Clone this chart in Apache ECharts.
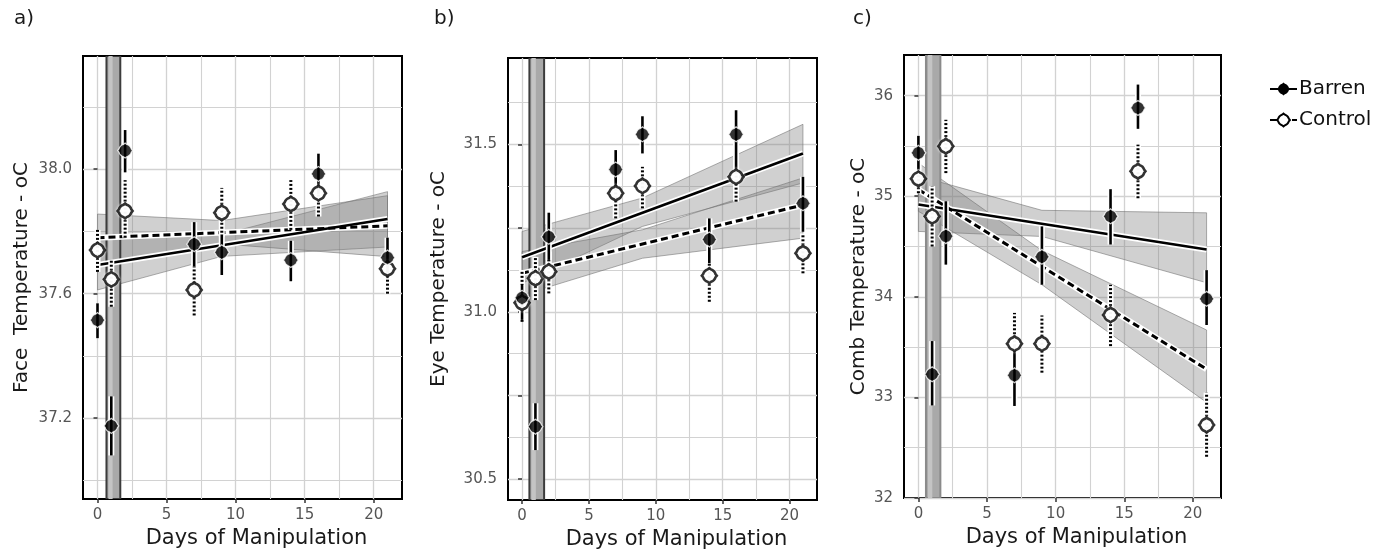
<!DOCTYPE html>
<html><head><meta charset="utf-8">
<script src="https://cdn.jsdelivr.net/npm/echarts@6/dist/echarts.min.js"></script>
<style>html,body{margin:0;background:#fff}#c{width:1386px;height:556px}</style>
</head><body><div id="c"></div><script>
// ---------- data ----------
const days = [0, 1, 2, 7, 9, 14, 16, 21];

const faceBarren   = [37.515, 37.175, 38.06, 37.759, 37.733, 37.708, 37.985, 37.716];
const faceBarrenLo = [37.457, 37.08, 37.99, 37.687, 37.66, 37.64, 37.92, 37.65];
const faceBarrenHi = [37.569, 37.27, 38.126, 37.83, 37.79, 37.77, 38.05, 37.78];
const faceControl   = [37.74, 37.646, 37.866, 37.612, 37.86, 37.888, 37.923, 37.68];
const faceControlLo = [37.67, 37.558, 37.78, 37.53, 37.783, 37.805, 37.848, 37.60];
const faceControlHi = [37.805, 37.708, 37.965, 37.70, 37.94, 37.965, 37.976, 37.74];

const eyeBarren   = [31.042, 30.657, 31.224, 31.425, 31.53, 31.216, 31.53, 31.324];
const eyeBarrenLo = [30.976, 30.587, 31.155, 31.364, 31.473, 31.145, 31.423, 31.239];
const eyeBarrenHi = [31.08, 30.727, 31.296, 31.483, 31.584, 31.279, 31.602, 31.403];
const eyeControl   = [31.027, 31.1, 31.12, 31.354, 31.376, 31.108, 31.403, 31.175];
const eyeControlLo = [30.97, 31.035, 31.055, 31.279, 31.309, 31.03, 31.329, 31.115];
const eyeControlHi = [31.125, 31.164, 31.18, 31.423, 31.433, 31.175, 31.468, 31.234];

const combBarren   = [35.431, 33.23, 34.603, 33.22, 34.398, 34.80, 35.878, 33.98];
const combBarrenLo = [35.265, 32.92, 34.32, 32.915, 34.12, 34.52, 35.67, 33.72];
const combBarrenHi = [35.60, 33.56, 34.95, 33.51, 34.70, 35.07, 36.11, 34.265];
const combControl   = [35.173, 34.80, 35.497, 33.534, 33.534, 33.82, 35.248, 32.726];
const combControlLo = [35.03, 34.50, 35.23, 33.23, 33.246, 33.51, 34.98, 32.41];
const combControlHi = [35.32, 35.10, 35.76, 33.84, 33.815, 34.12, 35.513, 33.048];

// regression fits
const fitX = [0, 21];
const faceFitBarren = [37.692, 37.84];
const faceFitControl = [37.78, 37.818];
const eyeFitBarren = [31.163, 31.473];
const eyeFitControl = [31.115, 31.319];
const combFitBarren = [34.918, 34.47];
const combFitControl = [35.067, 33.28];

// confidence ribbons
const ciX = [0, 9, 21];
const faceCiBarrenLo = [37.612, 37.72, 37.75];
const faceCiBarrenHi = [37.77, 37.79, 37.928];
const faceCiControlLo = [37.70, 37.76, 37.719];
const faceCiControlHi = [37.856, 37.835, 37.915];
const eyeCiBarrenLo = [31.085, 31.255, 31.385];
const eyeCiBarrenHi = [31.24, 31.34, 31.56];
const eyeCiControlLo = [31.05, 31.16, 31.22];
const eyeCiControlHi = [31.18, 31.245, 31.40];
const combCiBarrenLo = [34.65, 34.6, 34.14];
const combCiBarrenHi = [35.2, 34.86, 34.835];
const combCiControlLo = [34.85, 34.12, 32.95];
const combCiControlHi = [35.33, 34.46, 33.67];

// vertical grey band
const faceBand = [0.65, 1.65];
const eyeBand = [0.55, 1.65];
const combBand = [0.55, 1.6];

// ticks
const xTicks = [0, 5, 10, 15, 20];
const xMinor = [2.5, 7.5, 12.5, 17.5];
const faceYTicks = [37.2, 37.6, 38.0];
const faceYLabels = [37.2, 37.6, 38.0];
const faceYMinor = [37.0, 37.4, 37.8, 38.2];
const eyeYTicks = [30.5, 30.75, 31.0, 31.25, 31.5];
const eyeYLabels = [30.5, 31.0, 31.5];
const eyeYMinor = [30.625, 30.875, 31.125, 31.375, 31.625];
const combYTicks = [32, 33, 34, 35, 36];
const combYLabels = [32, 33, 34, 35, 36];
const combYMinor = [32.5, 33.5, 34.5, 35.5];

const panelLetters = ['a)', 'b)', 'c)'];
const yNames = ['Face  Temperature - oC', 'Eye Temperature - oC', 'Comb Temperature - oC'];
const xName = 'Days of Manipulation';
const legendNames = ['Barren', 'Control'];

// ---------- layout / style ----------
const FONT = 'DejaVu Sans';
const markerPath = 'path://M1,0 L0.821,0.22 L0.736,0.425 L0.601,0.601 L0.425,0.736 L0.22,0.821 L0,1 L-0.22,0.821 L-0.425,0.736 L-0.601,0.601 L-0.736,0.425 L-0.821,0.22 L-1,0 L-0.821,-0.22 L-0.736,-0.425 L-0.601,-0.601 L-0.425,-0.736 L-0.22,-0.821 L0,-1 L0.22,-0.821 L0.425,-0.736 L0.601,-0.601 L0.736,-0.425 L0.821,-0.22 Z';

const panels = [
  {grid:{left:83, top:56, width:319, height:443}, xr:[-1.05,22.05], yr:[36.94,38.364],
   yTicks:faceYTicks, yLabels:faceYLabels, yMinor:faceYMinor, fmt:v=>v.toFixed(1), nameGap:51, titleX:9, bandStroke:'#3c3c3c',
   b:faceBarren, bLo:faceBarrenLo, bHi:faceBarrenHi, c:faceControl, cLo:faceControlLo, cHi:faceControlHi,
   fb:faceFitBarren, fc:faceFitControl, cbl:faceCiBarrenLo, cbh:faceCiBarrenHi, ccl:faceCiControlLo, cch:faceCiControlHi, band:faceBand},
  {grid:{left:508, top:58, width:309, height:442}, xr:[-1.05,22.05], yr:[30.438,31.758],
   yTicks:eyeYTicks, yLabels:eyeYLabels, yMinor:eyeYMinor, fmt:v=>v.toFixed(1), nameGap:59, titleX:429, bandStroke:'#3c3c3c',
   b:eyeBarren, bLo:eyeBarrenLo, bHi:eyeBarrenHi, c:eyeControl, cLo:eyeControlLo, cHi:eyeControlHi,
   fb:eyeFitBarren, fc:eyeFitControl, cbl:eyeCiBarrenLo, cbh:eyeCiBarrenHi, ccl:eyeCiControlLo, cch:eyeCiControlHi, band:eyeBand},
  {grid:{left:904, top:55, width:317, height:443}, xr:[-1.05,22.05], yr:[32,36.404],
   yTicks:combYTicks, yLabels:combYLabels, yMinor:combYMinor, fmt:v=>String(Math.round(v)), nameGap:35, titleX:848, bandStroke:'#8a8a8a',
   b:combBarren, bLo:combBarrenLo, bHi:combBarrenHi, c:combControl, cLo:combControlLo, cHi:combControlHi,
   fb:combFitBarren, fc:combFitControl, cbl:combCiBarrenLo, cbh:combCiBarrenHi, ccl:combCiControlLo, cch:combCiControlHi, band:combBand}
];

const grids = [], xAxes = [], yAxes = [], series = [], titles = [];
const gridLineColor = '#d2d2d2';

function ribbonRender(lo, hi) {
  return function (params, api) {
    const pts = [];
    for (let i = 0; i < ciX.length; i++) pts.push(api.coord([ciX[i], hi[i]]));
    for (let i = ciX.length - 1; i >= 0; i--) pts.push(api.coord([ciX[i], lo[i]]));
    return {type:'polygon', shape:{points:pts},
      style:{fill:'rgba(125,125,125,0.36)', stroke:'rgba(110,110,110,0.55)', lineWidth:1}};
  };
}
function bandRender(band, stroke) {
  return function (params, api) {
    const cs = params.coordSys;
    const x1 = api.coord([band[0], 0])[0], x2 = api.coord([band[1], 0])[0];
    return {type:'group', children:[
      {type:'rect', shape:{x:x1, y:cs.y, width:x2 - x1, height:cs.height},
        style:{fill:'#a9a9a9', stroke:stroke, lineWidth:2}},
      {type:'rect', shape:{x:x1 + 2, y:cs.y, width:(x2 - x1) * 0.3, height:cs.height},
        style:{fill:'#c4c4c4'}}
    ]};
  };
}
function errRender(dotted) {
  return function (params, api) {
    const x = api.value(0);
    const p1 = api.coord([x, api.value(1)]), p2 = api.coord([x, api.value(2)]);
    const shape = {x1:p1[0], y1:p1[1], x2:p2[0], y2:p2[1]};
    return {type:'group', children:[
      {type:'line', shape:shape, style:{stroke:'#fff', lineWidth:6}},
      {type:'line', shape:shape, style:{stroke:'#000', lineWidth:dotted ? 3 : 2.6, lineDash:dotted ? [2, 2] : null}}
    ]};
  };
}

panels.forEach((p, k) => {
  grids.push(Object.assign({show:true, backgroundColor:'#fff', borderColor:'#000', borderWidth:2, containLabel:false}, p.grid));
  xAxes.push({type:'value', gridIndex:k, min:p.xr[0], max:p.xr[1], position:'bottom',
    name:xName, nameLocation:'middle', nameGap:26,
    nameTextStyle:{fontFamily:FONT, fontSize:21, color:'#1a1a1a', padding:[0,0,0,28]},
    axisLine:{show:false},
    axisTick:{show:true, length:4, lineStyle:{color:'#333', width:1.5}, customValues:xTicks},
    axisLabel:{show:true, margin:9, fontFamily:FONT, fontSize:15, color:'#555', customValues:xTicks},
    splitLine:{show:true, lineStyle:{color:gridLineColor, width:1.3}}});
  xAxes.push({type:'value', gridIndex:k, min:p.xr[0], max:p.xr[1], position:'top',
    axisLine:{show:false}, axisTick:{show:false, customValues:xMinor}, axisLabel:{show:false, customValues:xMinor},
    splitLine:{show:true, lineStyle:{color:gridLineColor, width:1.1}}});
  yAxes.push({type:'value', gridIndex:k, min:p.yr[0], max:p.yr[1], position:'left',
    name:yNames[k], nameLocation:'middle', nameGap:p.nameGap,
    nameTextStyle:{fontFamily:FONT, fontSize:20, color:'#1a1a1a'},
    axisLine:{show:false},
    axisTick:{show:true, length:4, lineStyle:{color:'#333', width:1.5}, customValues:p.yTicks},
    axisLabel:{show:true, margin:11, fontFamily:FONT, fontSize:15, color:'#555', customValues:p.yLabels, formatter:p.fmt},
    splitLine:{show:true, lineStyle:{color:gridLineColor, width:1.3}}});
  yAxes.push({type:'value', gridIndex:k, min:p.yr[0], max:p.yr[1], position:'right',
    axisLine:{show:false}, axisTick:{show:false, customValues:p.yMinor}, axisLabel:{show:false, customValues:p.yMinor},
    splitLine:{show:true, lineStyle:{color:gridLineColor, width:1.1}}});

  titles.push({text:panelLetters[k], left:p.titleX, top:4, textStyle:{fontFamily:FONT, fontSize:20, fontWeight:'normal', color:'#1a1a1a'}});

  const xi = k * 2, yi = k * 2;
  const base = {xAxisIndex:xi, yAxisIndex:yi, animation:false, silent:true};

  series.push(Object.assign({}, base, {type:'custom', name:'ciB' + k, z:1, clip:true,
    renderItem:ribbonRender(p.cbl, p.cbh), data:[[ciX[0], p.cbl[0]]]}));
  series.push(Object.assign({}, base, {type:'custom', name:'ciC' + k, z:1, clip:true,
    renderItem:ribbonRender(p.ccl, p.cch), data:[[ciX[0], p.ccl[0]]]}));
  series.push(Object.assign({}, base, {type:'custom', name:'band' + k, z:2, clip:true,
    renderItem:bandRender(p.band, p.bandStroke), data:[[p.band[0], p.yr[0]]]}));

  series.push(Object.assign({}, base, {type:'line', name:'haloB' + k, z:3, showSymbol:false, symbol:'none',
    data:fitX.map((x, i) => [x, p.fb[i]]), lineStyle:{color:'#fff', width:6}}));
  series.push(Object.assign({}, base, {type:'line', name:'haloC' + k, z:3, showSymbol:false, symbol:'none',
    data:fitX.map((x, i) => [x, p.fc[i]]), lineStyle:{color:'#fff', width:6}}));
  series.push(Object.assign({}, base, {type:'line', name:k === 0 ? legendNames[0] : 'fitB' + k, z:4, showSymbol:false,
    symbol:markerPath, itemStyle:{color:'#000', borderWidth:0},
    data:fitX.map((x, i) => [x, p.fb[i]]), lineStyle:{color:'#000', width:2.6, type:'solid'}}));
  series.push(Object.assign({}, base, {type:'line', name:k === 0 ? legendNames[1] : 'fitC' + k, z:4, showSymbol:false,
    symbol:markerPath, itemStyle:{color:'#fff', borderColor:'#000', borderWidth:2},
    data:fitX.map((x, i) => [x, p.fc[i]]), lineStyle:{color:'#000', width:3, type:[7, 4]}}));

  series.push(Object.assign({}, base, {type:'custom', name:'errC' + k, z:5, renderItem:errRender(true),
    encode:{x:0, y:[1, 2]}, data:days.map((d, i) => [d, p.cLo[i], p.cHi[i]])}));
  series.push(Object.assign({}, base, {type:'custom', name:'errB' + k, z:5, renderItem:errRender(false),
    encode:{x:0, y:[1, 2]}, data:days.map((d, i) => [d, p.bLo[i], p.bHi[i]])}));

  series.push(Object.assign({}, base, {type:'scatter', name:'ptC' + k, z:6, symbol:markerPath, symbolSize:15,
    itemStyle:{color:'#fff', borderColor:'#000', borderWidth:2.6, shadowColor:'#fff', shadowBlur:3},
    data:days.map((d, i) => [d, p.c[i]])}));
  series.push(Object.assign({}, base, {type:'scatter', name:'ptB' + k, z:6, symbol:markerPath, symbolSize:15,
    itemStyle:{color:'#000', borderColor:'#fff', borderWidth:1.2},
    data:days.map((d, i) => [d, p.b[i]])}));
});

const chart = echarts.init(document.getElementById('c'), null, {renderer:'canvas'});
chart.setOption({
  animation:false,
  backgroundColor:'#fff',
  title:titles,
  legend:{data:legendNames, orient:'vertical', left:1264, top:74, itemWidth:27, itemHeight:16, itemGap:11,
    textStyle:{fontFamily:FONT, fontSize:20, color:'#111', padding:[0,0,0,-3]}, selectedMode:false},
  grid:grids, xAxis:xAxes, yAxis:yAxes, series:series
});
</script></body></html>
